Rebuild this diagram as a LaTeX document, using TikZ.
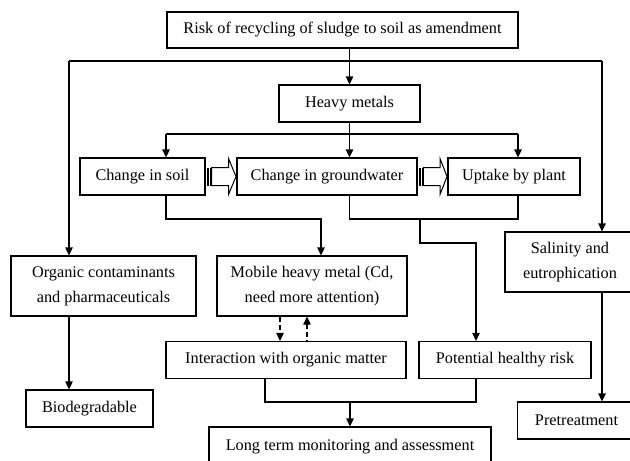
\documentclass[tikz,border=0pt]{standalone}
\usepackage{fontspec}
\setmainfont{Liberation Serif}
\usetikzlibrary{arrows.meta}

\tikzset{every picture/.style={line width=0.9pt}}
\tikzset{box/.style={draw, inner sep=0pt, align=center, minimum height=27.75pt, font=\fontsize{12.2}{18.75}\selectfont}}

\begin{document}
\begin{tikzpicture}[x=0.75pt,y=0.75pt,yscale=-1,xscale=1, >={Triangle[length=6pt,width=5.6pt]}]
	\useasboundingbox (0,0) rectangle (630,460);

	% Text Node
	\node [box, minimum width=263.25pt, minimum height=27pt] (risk) at (342.5,30) {Risk of recycling of sludge to soil as amendment};
	% Text Node
	\node [box, minimum width=105.75pt] (heavy) at (349.5,103.5) {Heavy metals};
	% Text Node
	\node [box, minimum width=93.75pt] (soil) at (142.5,176.5) {Change in soil};
	% Text Node
	\node [box, minimum width=135pt] (ground) at (327,176.5) {Change in groundwater};
	% Text Node
	\node [box, minimum width=99pt] (uptake) at (514,176.5) {Uptake by plant};
	% Text Node
	\node [box, minimum width=138.75pt, minimum height=45pt] (organic) at (103.5,286) {Organic contaminants\\and pharmaceuticals};
	% Text Node
	\node [box, minimum width=142.5pt, minimum height=45pt] (mobile) at (312,286) {Mobile heavy metal (Cd,\\need more attention)};
	% Text Node
	\node [box, minimum width=97.5pt, minimum height=45pt] (salinity) at (570,262) {Salinity and\\eutrophication};
	% Text Node
	\node [box, minimum width=180pt] (interact) at (286,360) {Interaction with organic matter};
	% Text Node
	\node [box, minimum width=129pt] (potential) at (505,360) {Potential healthy risk};
	% Text Node
	\node [box, minimum width=95.25pt] (biodeg) at (89.5,408.5) {Biodegradable};
	% Text Node
	\node [box, minimum width=88.5pt] (pretreat) at (576.5,420.5) {Pretreatment};
	% Text Node
	\node [box, minimum width=211.5pt, minimum height=30pt] (longterm) at (350,447) {Long term monitoring and assessment};

	% Corners of the connectors
	\coordinate (tl) at (69,61);
	\coordinate (tr) at (602,61);
	\coordinate (bl) at (166,134);
	\coordinate (br) at (518,134);
	\coordinate (sj) at (321,219);
	\coordinate (gj) at (420,219);
	\coordinate (pj) at (476,243);
	\coordinate (dd) at (280,0);
	\coordinate (du) at (307,0);
	\coordinate (bj) at (265,402);

	%Straight Lines
	\draw [->] (risk.south -| heavy.north) -- (heavy.north);
	\draw (tl) -- (tr);
	\draw [->] (tl) -- (tl |- organic.north);
	\draw [->] (tr) -- (tr |- salinity.north);
	\draw [->] (tl |- organic.south) -- (tl |- biodeg.north);
	\draw [->] (tr |- salinity.south) -- (tr |- pretreat.north);

	\draw (heavy.south) -- (heavy.south |- bl);
	\draw (bl) -- (br);
	\draw [->] (bl) -- (bl |- soil.north);
	\draw [->] (heavy.south |- bl) -- (heavy.south |- ground.north);
	\draw [->] (br) -- (br |- uptake.north);

	\draw [->] (bl |- soil.south) |- (sj) -- (sj |- mobile.north);
	\draw (heavy.south |- ground.south) -- (heavy.south |- gj) -- (br |- gj) -- (br |- uptake.south);
	\draw [->] (gj) |- (pj) -- (pj |- potential.north);

	%Dashed Lines
	\draw [->, dash pattern=on 3.75pt off 2.25pt] (dd |- mobile.south) -- (dd |- interact.north);
	\draw [<-, dash pattern=on 3.75pt off 2.25pt] (du |- mobile.south) -- (du |- interact.north);

	\draw (bj |- interact.south) -- (bj) -- (pj |- bj) -- (pj |- potential.south);
	\draw [->] (longterm.north |- bj) -- (longterm.north);

	%Shape: Striped Right Arrow
	\fill (207,167.5) rectangle (208.8,185.5);
	\fill (209.8,167.5) rectangle (211.6,185.5);
	\draw [line width=0.75pt] (211.6,167.5) -- (228.5,167.5) -- (228.5,158.5) -- (236,176.5) -- (228.5,194.5) -- (228.5,185.5) -- (211.6,185.5) -- cycle;
	%Shape: Striped Right Arrow
	\fill (418.7,167.5) rectangle (420.5,185.5);
	\fill (421.5,167.5) rectangle (423.3,185.5);
	\draw [line width=0.75pt] (423.3,167.5) -- (440,167.5) -- (440,158.5) -- (447,176.5) -- (440,194.5) -- (440,185.5) -- (423.3,185.5) -- cycle;

\end{tikzpicture}
\end{document}
